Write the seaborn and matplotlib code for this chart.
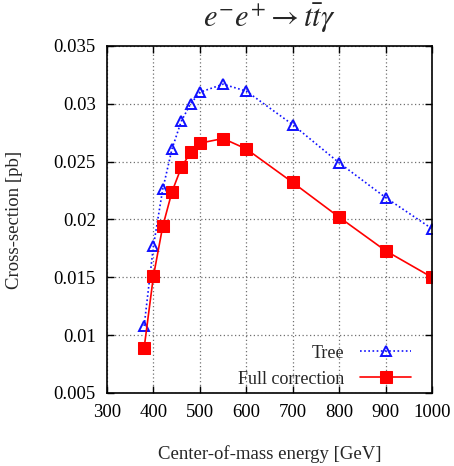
import matplotlib
matplotlib.use("Agg")
import matplotlib.pyplot as plt
import seaborn as sns
import pandas as pd

# Cross-section of e- e+ -> t tbar gamma versus centre-of-mass energy
energy = [380, 400, 420, 440, 460, 480, 500, 550, 600, 700, 800, 900, 1000]
tree = [0.0108, 0.0177, 0.0226, 0.0261, 0.0285, 0.0300, 0.0310, 0.0317,
        0.0311, 0.0282, 0.0249, 0.0219, 0.0192]
full = [0.0089, 0.0151, 0.0194, 0.0224, 0.0245, 0.0258, 0.0266, 0.0270,
        0.0261, 0.0232, 0.0202, 0.0173, 0.0150]

x_ticks = [300, 400, 500, 600, 700, 800, 900, 1000]
y_ticks = [0.005, 0.01, 0.015, 0.02, 0.025, 0.03, 0.035]
y_tick_labels = ["0.005", "0.01", "0.015", "0.02", "0.025", "0.03", "0.035"]

df = pd.DataFrame({"energy": energy, "Tree": tree, "Full correction": full})

sns.set_theme(style="white")
plt.rcParams["font.family"] = ["Liberation Serif", "DejaVu Serif"]
plt.rcParams["mathtext.fontset"] = "stix"

fig = plt.figure(figsize=(4.54, 4.66), dpi=100)
ax = fig.add_axes([0.2357, 0.1567, 0.9515 - 0.2357, 0.9013 - 0.1567])

sns.lineplot(data=df, x="energy", y="Tree", ax=ax, color="#1010ff",
             linestyle=(0, (1, 1.5)), linewidth=1.2, marker="^",
             markersize=7.5, markerfacecolor="none", markeredgecolor="#1010ff",
             markeredgewidth=1.4, label="Tree")
sns.lineplot(data=df, x="energy", y="Full correction", ax=ax, color="#ff0000",
             linewidth=1.2, marker="s", markersize=8,
             markeredgecolor="#ff0000", label="Full correction")

ax.set_xlim(300, 1000)
ax.set_ylim(0.005, 0.035)
ax.set_xticks(x_ticks)
ax.set_xticklabels([str(t) for t in x_ticks])
ax.set_yticks(y_ticks)
ax.set_yticklabels(y_tick_labels)

ax.grid(True, color="#707070", linestyle=(0, (1, 2)), linewidth=0.9)
for s in ax.spines.values():
    s.set_color("black")
    s.set_linewidth(1.2)
ax.tick_params(direction="in", length=5, width=1, top=True, right=True,
               bottom=True, left=True, labelsize=13.5, pad=8, colors="black")

ax.set_xlabel("Center-of-mass energy [GeV]", fontsize=13.5, labelpad=17)
ax.set_ylabel("Cross-section [pb]", fontsize=13.5, labelpad=22)
ax.set_title(r"$e^{-}e^{+}\rightarrow t\bar{t}\gamma$", fontsize=22, pad=14)

ax.legend(loc="lower right", bbox_to_anchor=(0.935, 0.015),
          markerfirst=False, frameon=False, fontsize=13,
          handlelength=2.8, borderpad=0.0, borderaxespad=0.0,
          labelspacing=0.5, handletextpad=0.9)

fig.savefig("out.png", dpi=100)
